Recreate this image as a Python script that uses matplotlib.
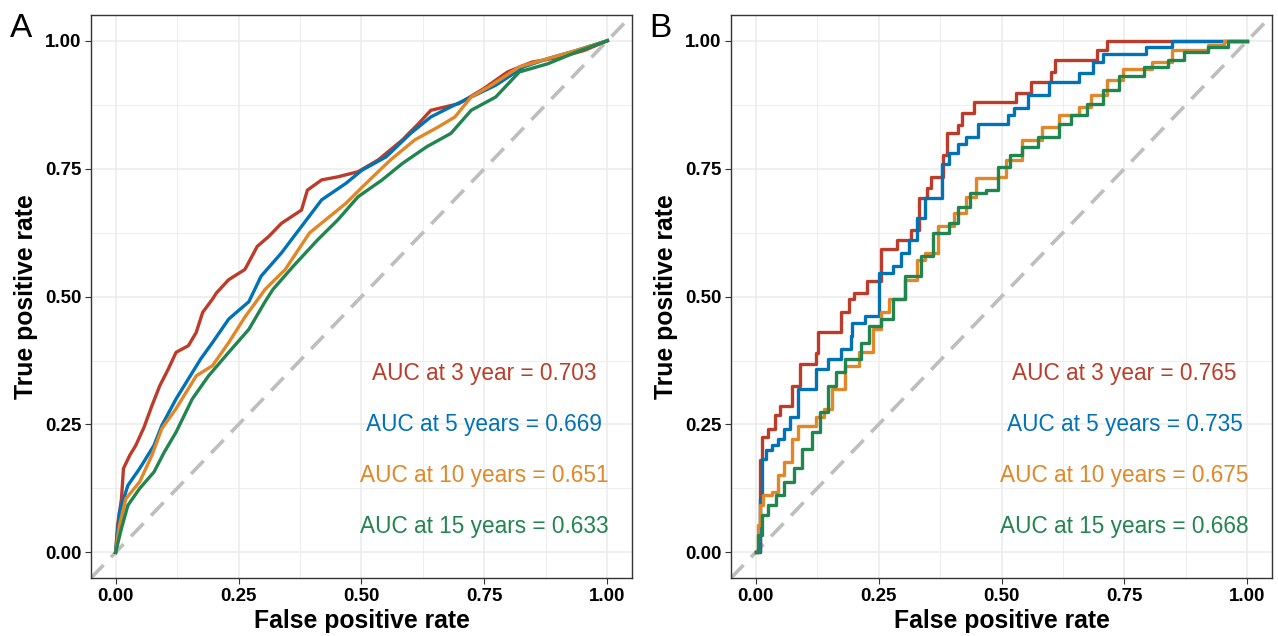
import matplotlib
matplotlib.use("Agg")
from matplotlib import pyplot as plt
from matplotlib.ticker import MultipleLocator

plt.rcParams['font.family'] = ['Liberation Sans', 'DejaVu Sans']

colors = ['#BC3C29', '#0072B5', '#E18727', '#20854E']

# panel A (large cohort)
a_red_x = [0, 0.004, 0.012, 0.016, 0.029, 0.041, 0.058, 0.074, 0.09, 0.107, 0.123, 0.148, 0.164,
           0.177, 0.197, 0.205, 0.23, 0.263, 0.288, 0.312, 0.337, 0.378, 0.39, 0.419, 0.452,
           0.493, 0.534, 0.583, 0.616, 0.641, 0.698, 0.748, 0.797, 0.846, 0.904, 0.953, 1.0]
a_red_y = [0, 0.053, 0.105, 0.164, 0.19, 0.209, 0.245, 0.287, 0.326, 0.358, 0.391, 0.404, 0.43,
           0.469, 0.495, 0.507, 0.533, 0.553, 0.598, 0.618, 0.643, 0.669, 0.708, 0.728, 0.734,
           0.744, 0.767, 0.806, 0.838, 0.864, 0.877, 0.906, 0.939, 0.958, 0.968, 0.981, 1.0]

a_blue_x = [0, 0.008, 0.025, 0.049, 0.078, 0.094, 0.123, 0.148, 0.173, 0.197, 0.23, 0.271, 0.296,
            0.337, 0.378, 0.419, 0.468, 0.501, 0.55, 0.6, 0.641, 0.682, 0.723, 0.773, 0.83,
            0.879, 0.937, 1.0]
a_blue_y = [0, 0.079, 0.131, 0.164, 0.209, 0.248, 0.3, 0.339, 0.378, 0.41, 0.456, 0.49, 0.54,
            0.585, 0.637, 0.689, 0.721, 0.747, 0.773, 0.819, 0.851, 0.871, 0.89, 0.913, 0.949,
            0.965, 0.981, 1.0]

a_orange_x = [0, 0.008, 0.021, 0.049, 0.074, 0.094, 0.123, 0.164, 0.197, 0.23, 0.263, 0.304,
              0.345, 0.394, 0.427, 0.468, 0.509, 0.559, 0.608, 0.657, 0.69, 0.723, 0.764, 0.821,
              0.879, 0.937, 1.0]
a_orange_y = [0, 0.053, 0.105, 0.138, 0.19, 0.242, 0.281, 0.345, 0.365, 0.41, 0.46, 0.514,
              0.553, 0.624, 0.65, 0.682, 0.721, 0.767, 0.806, 0.832, 0.851, 0.89, 0.913, 0.949,
              0.965, 0.981, 1.0]

a_green_x = [0, 0.012, 0.025, 0.049, 0.078, 0.099, 0.123, 0.156, 0.189, 0.23, 0.271, 0.304,
             0.32, 0.361, 0.411, 0.452, 0.493, 0.542, 0.583, 0.633, 0.682, 0.723, 0.773, 0.821,
             0.879, 0.937, 1.0]
a_green_y = [0, 0.047, 0.092, 0.125, 0.157, 0.196, 0.235, 0.3, 0.345, 0.391, 0.436, 0.49,
             0.514, 0.559, 0.611, 0.65, 0.695, 0.728, 0.76, 0.793, 0.819, 0.864, 0.89, 0.939,
             0.955, 0.978, 1.0]

# panel B (smaller cohort, step curves)
b_red_x = [0, 0.008, 0.012, 0.025, 0.04, 0.05, 0.074, 0.09, 0.123, 0.127, 0.173, 0.189, 0.201,
           0.226, 0.255, 0.288, 0.316, 0.333, 0.349, 0.357, 0.382, 0.39, 0.411, 0.419, 0.444,
           0.53, 0.559, 0.6, 0.608, 0.694, 0.715, 1.0]
b_red_y = [0, 0.18, 0.225, 0.242, 0.268, 0.287, 0.326, 0.368, 0.39, 0.43, 0.469, 0.495, 0.507,
           0.53, 0.592, 0.611, 0.631, 0.692, 0.712, 0.734, 0.777, 0.819, 0.835, 0.858, 0.881,
           0.897, 0.919, 0.939, 0.962, 0.981, 1.0, 1.0]

b_blue_x = [0, 0.008, 0.012, 0.021, 0.033, 0.045, 0.058, 0.07, 0.086, 0.123, 0.148, 0.173,
            0.193, 0.197, 0.222, 0.251, 0.279, 0.296, 0.312, 0.329, 0.345, 0.378, 0.394, 0.411,
            0.427, 0.452, 0.513, 0.526, 0.554, 0.596, 0.657, 0.686, 0.707, 0.793, 0.846, 1.0]
b_blue_y = [0, 0.105, 0.183, 0.2, 0.209, 0.222, 0.242, 0.264, 0.32, 0.358, 0.378, 0.397,
            0.423, 0.449, 0.462, 0.546, 0.559, 0.585, 0.611, 0.653, 0.692, 0.76, 0.78, 0.799,
            0.812, 0.838, 0.855, 0.868, 0.894, 0.919, 0.936, 0.958, 0.975, 0.988, 1.0, 1.0]

b_orange_x = [0, 0.004, 0.008, 0.016, 0.033, 0.045, 0.058, 0.074, 0.086, 0.123, 0.14, 0.156,
              0.181, 0.21, 0.238, 0.255, 0.271, 0.304, 0.329, 0.345, 0.37, 0.403, 0.427, 0.448,
              0.493, 0.509, 0.542, 0.583, 0.616, 0.657, 0.682, 0.715, 0.748, 0.805, 0.846,
              0.92, 0.953, 1.0]
b_orange_y = [0, 0.053, 0.092, 0.112, 0.118, 0.151, 0.177, 0.222, 0.248, 0.264, 0.281, 0.319,
              0.365, 0.391, 0.436, 0.469, 0.495, 0.533, 0.572, 0.585, 0.637, 0.663, 0.695, 0.731,
              0.734, 0.767, 0.806, 0.832, 0.855, 0.871, 0.894, 0.923, 0.945, 0.958, 0.981,
              0.991, 1.0, 1.0]

b_green_x = [0, 0.004, 0.012, 0.025, 0.041, 0.058, 0.078, 0.094, 0.115, 0.131, 0.148, 0.164,
             0.181, 0.214, 0.23, 0.255, 0.279, 0.304, 0.337, 0.361, 0.394, 0.411, 0.435, 0.468,
             0.493, 0.517, 0.542, 0.575, 0.616, 0.641, 0.674, 0.707, 0.739, 0.789, 0.838,
             0.871, 0.92, 0.961, 1.0]
b_green_y = [0, 0.034, 0.073, 0.092, 0.112, 0.138, 0.164, 0.203, 0.235, 0.274, 0.326, 0.352,
             0.378, 0.41, 0.443, 0.456, 0.495, 0.54, 0.579, 0.624, 0.643, 0.676, 0.702, 0.708,
             0.754, 0.777, 0.793, 0.812, 0.838, 0.855, 0.877, 0.903, 0.932, 0.949, 0.962,
             0.978, 0.988, 1.0, 1.0]

labels_a = ['AUC at 3 year = 0.703', 'AUC at 5 years = 0.669',
            'AUC at 10 years = 0.651', 'AUC at 15 years = 0.633']
labels_b = ['AUC at 3 year = 0.765', 'AUC at 5 years = 0.735',
            'AUC at 10 years = 0.675', 'AUC at 15 years = 0.668']
label_y = [0.35, 0.25, 0.15, 0.05]

ticks = [0, 0.25, 0.5, 0.75, 1.0]
tick_labels = ['0.00', '0.25', '0.50', '0.75', '1.00']

fig = plt.figure(figsize=(12.78, 6.36), dpi=100)
ax_a = fig.add_axes([0.0712, 0.0912, 0.4233, 0.885])
ax_b = fig.add_axes([0.572, 0.0912, 0.4233, 0.885])

panels = [
    (ax_a, [(a_red_x, a_red_y), (a_blue_x, a_blue_y), (a_orange_x, a_orange_y),
            (a_green_x, a_green_y)], labels_a, 'default'),
    (ax_b, [(b_red_x, b_red_y), (b_blue_x, b_blue_y), (b_orange_x, b_orange_y),
            (b_green_x, b_green_y)], labels_b, 'steps-post'),
]

for ax, curves, labels, ds in panels:
    ax.set_xlim(-0.05, 1.05)
    ax.set_ylim(-0.05, 1.05)
    ax.xaxis.set_minor_locator(MultipleLocator(0.125))
    ax.yaxis.set_minor_locator(MultipleLocator(0.125))
    ax.grid(which='major', color='#EBEBEB', linewidth=1.1)
    ax.grid(which='minor', color='#EBEBEB', linewidth=0.6)
    ax.set_axisbelow(True)
    ax.set_xticks(ticks)
    ax.set_xticklabels(tick_labels)
    ax.set_yticks(ticks)
    ax.set_yticklabels(tick_labels)
    ax.tick_params(which='minor', length=0)
    ax.tick_params(which='major', length=4, width=0.8, color='#333333', labelsize=13.5,
                   labelcolor='black', pad=3)
    for t in ax.get_xticklabels() + ax.get_yticklabels():
        t.set_fontweight('bold')
    for s in ax.spines.values():
        s.set_color('#333333')
        s.set_linewidth(1.0)

    ax.plot([-0.05, 1.05], [-0.05, 1.05], color='#BEBEBE', linestyle=(0, (5, 3)),
            linewidth=2.6, zorder=1)
    for (x, y), c in zip(curves, colors):
        ax.plot(x, y, color=c, linewidth=2.4, drawstyle=ds, zorder=2)
    for lab, yy, c in zip(labels, label_y, colors):
        ax.text(0.75, yy, lab, color=c, fontsize=16.3, ha='center', va='center')

    ax.set_xlabel('False positive rate', fontsize=17.8, fontweight='bold', labelpad=3)
    ax.set_ylabel('True positive rate', fontsize=17.8, fontweight='bold', labelpad=5)

fig.text(0.008, 0.955, 'A', fontsize=24, va='center', ha='left')
fig.text(0.508, 0.955, 'B', fontsize=24, va='center', ha='left')

fig.savefig('out.png', dpi=100)
